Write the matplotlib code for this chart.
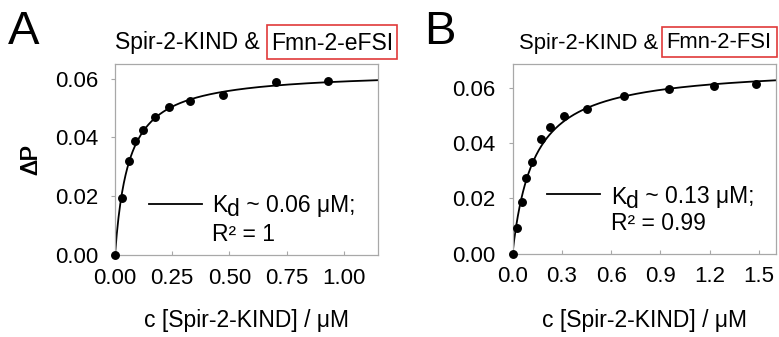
import numpy as np
import matplotlib
matplotlib.use('Agg')
import matplotlib.pyplot as plt
from matplotlib.lines import Line2D
from matplotlib.patches import Rectangle

plt.rcParams['font.family'] = ['Liberation Sans', 'DejaVu Sans']

# ---------------- data ----------------
a_conc = [0, 0.03, 0.061, 0.089, 0.121, 0.177, 0.238, 0.326, 0.471, 0.702, 0.93]
a_dp = [0, 0.0193, 0.0319, 0.0387, 0.0424, 0.0471, 0.0505, 0.0524, 0.0546, 0.0590, 0.0591]
a_kd = 0.06
a_bmax = 0.0626
a_xticks = [0.0, 0.25, 0.5, 0.75, 1.0]
a_xlabels = ['0.00', '0.25', '0.50', '0.75', '1.00']

b_conc = [0, 0.0286, 0.057, 0.085, 0.116, 0.175, 0.231, 0.314, 0.456, 0.681, 0.955, 1.223, 1.484]
b_dp = [0, 0.0091, 0.0187, 0.0274, 0.0331, 0.0417, 0.0460, 0.0499, 0.0525, 0.0571, 0.0596, 0.0609, 0.0614]
b_kd = 0.13
b_bmax = 0.068
b_xticks = [0.0, 0.3, 0.6, 0.9, 1.2, 1.5]
b_xlabels = ['0.0', '0.3', '0.6', '0.9', '1.2', '1.5']

yticks = [0.0, 0.02, 0.04, 0.06]
ylabels = ['0.00', '0.02', '0.04', '0.06']

W, H = 779, 337
fig = plt.figure(figsize=(W / 100, H / 100), dpi=100)
renderer = fig.canvas.get_renderer()


def fx(x):
    return x / W


def fy(y):
    return 1 - y / H


FS = 16.5
TFS = 16
SPINE = '#a8a8a8'
RED = '#e03a3a'

panels = [
    dict(letter='A', box=(115, 64, 378, 255), xlim=(0, 1.15), ylim=(0, 0.065),
         conc=a_conc, dp=a_dp, kd=a_kd, bmax=a_bmax, xt=a_xticks, xl=a_xlabels,
         title_x=115, title_y=49.5, title_fs=16.5, boxed='Fmn-2-eFSI',
         rect=(266.5, 25.5, 397.5, 58.5),
         kd_txt=' ~ 0.06 μM;', r2_txt='R² = 1',
         leg=(149, 202, 204, 212), leg_base=(212, 241), letter_x=8),
    dict(letter='B', box=(512.5, 63.5, 775.5, 253.5), xlim=(0, 1.6), ylim=(0, 0.069),
         conc=b_conc, dp=b_dp, kd=b_kd, bmax=b_bmax, xt=b_xticks, xl=b_xlabels,
         title_x=519, title_y=48.5, title_fs=15.8, boxed='Fmn-2-FSI',
         rect=(661.5, 27, 776.5, 57),
         kd_txt=' ~ 0.13 μM;', r2_txt='R² = 0.99',
         leg=(547, 600, 194, 611), leg_base=(203.5, 230.5), letter_x=424),
]

for p in panels:
    l, t, r, b = p['box']
    ax = fig.add_axes([fx(l), fy(b), fx(r) - fx(l), fy(t) - fy(b)])
    ax.set_xlim(*p['xlim'])
    ax.set_ylim(*p['ylim'])

    # fitted hyperbolic binding curve
    xs = np.linspace(0, p['xlim'][1], 300)
    ax.plot(xs, p['bmax'] * xs / (p['kd'] + xs), color='black', lw=1.3, zorder=2)
    ax.plot(p['conc'], p['dp'], 'o', color='black', ms=5.4, zorder=3, clip_on=False)

    for s in ax.spines.values():
        s.set_color(SPINE)
        s.set_linewidth(0.9)

    ax.set_xticks(p['xt'])
    ax.set_xticklabels(p['xl'])
    ax.set_yticks(yticks)
    ax.set_yticklabels(ylabels)
    ax.tick_params(axis='x', direction='in', length=3, color=SPINE, labelsize=TFS, pad=9)
    ax.tick_params(axis='y', direction='out', length=3, color=SPINE, labelsize=TFS, pad=9)

    ax.set_xlabel('c [Spir-2-KIND] / μM', fontsize=FS, va='center')
    ax.xaxis.set_label_coords(0.5, (b - 321) / (b - t))
    ax.set_ylabel('ΔP', fontsize=FS, va='center')
    ax.yaxis.set_label_coords((31 - l) / (r - l), 0.5)

    # legend (manual, line aligned with first row)
    x0, x1, ly, tx = p['leg']
    base1, base2 = p['leg_base']
    fig.add_artist(Line2D([fx(x0), fx(x1)], [fy(ly), fy(ly)], color='black', lw=1.3,
                          transform=fig.transFigure))
    tk = fig.text(fx(tx), fy(base1), 'K', fontsize=FS, va='baseline', ha='left')
    xk = tk.get_window_extent(renderer).x1
    td = fig.text(xk / W, fy(base1 + 4), 'd', fontsize=FS, va='baseline', ha='left')
    xd = td.get_window_extent(renderer).x1
    fig.text(xd / W, fy(base1), p['kd_txt'], fontsize=FS, va='baseline', ha='left')
    fig.text(fx(tx), fy(base2), p['r2_txt'], fontsize=FS, va='baseline', ha='left')

    # title with boxed part
    fig.text(fx(p['title_x']), fy(p['title_y']), 'Spir-2-KIND &', fontsize=p['title_fs'],
             va='baseline', ha='left')
    rx0, ry0, rx1, ry1 = p['rect']
    fig.text(fx((rx0 + rx1) / 2), fy(p['title_y']), p['boxed'], fontsize=p['title_fs'],
             va='baseline', ha='center')
    fig.add_artist(Rectangle((fx(rx0), fy(ry1)), fx(rx1) - fx(rx0), fy(ry0) - fy(ry1),
                             transform=fig.transFigure, fill=False, edgecolor=RED, lw=1.2))

    # panel letter
    fig.text(fx(p['letter_x']), fy(44), p['letter'], fontsize=34, va='baseline', ha='left')

fig.savefig('out.png', dpi=100)
